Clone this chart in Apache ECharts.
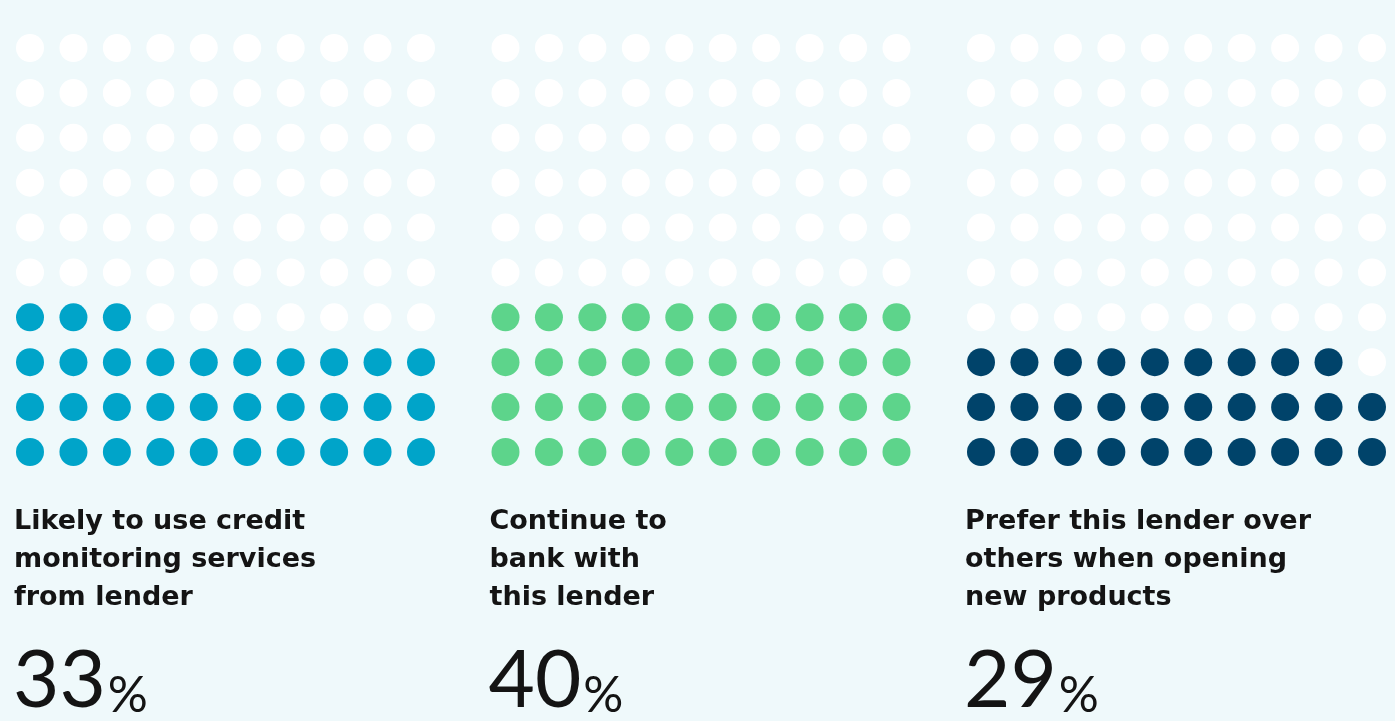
<!DOCTYPE html>
<html>
<head>
<meta charset="utf-8">
<script src="https://cdn.jsdelivr.net/npm/echarts@6/dist/echarts.min.js"></script>
<style>
html,body{margin:0;padding:0;background:#eff9fb}
#main{width:1395px;height:721px}
</style>
</head>
<body>
<div id="main"></div>
<script>
// panel data
var labels = [
  'Likely to use credit\nmonitoring services\nfrom lender',
  'Continue to\nbank with\nthis lender',
  'Prefer this lender over\nothers when opening\nnew products'
];
var percents = [33, 40, 29];
var colors = ['#00a4c9', '#5dd48b', '#00436a'];
var gridCols = 10, gridRows = 10;

var chart = echarts.init(document.getElementById('main'));

var grids = [], xAxes = [], yAxes = [], series = [], graphics = [];
var step = 475.5;

for (var i = 0; i < percents.length; i++) {
  grids.push({left: 30 + i * step, top: 48, width: 391, height: 404});
  xAxes.push({type: 'value', gridIndex: i, min: 0, max: gridCols - 1, show: false});
  yAxes.push({type: 'value', gridIndex: i, min: 0, max: gridRows - 1, show: false});

  // fill from bottom row, left to right
  var filled = [], empty = [];
  for (var k = 0; k < gridCols * gridRows; k++) {
    var cell = [k % gridCols, Math.floor(k / gridCols)];
    if (k < percents[i]) filled.push(cell); else empty.push(cell);
  }
  series.push({
    type: 'scatter', xAxisIndex: i, yAxisIndex: i, symbolSize: 28,
    itemStyle: {color: '#ffffff', opacity: 1}, data: empty, silent: true
  });
  series.push({
    type: 'scatter', xAxisIndex: i, yAxisIndex: i, symbolSize: 28,
    itemStyle: {color: colors[i], opacity: 1}, data: filled, silent: true
  });

  graphics.push({
    type: 'text', x: 14 + i * step, y: 503,
    style: {
      text: labels[i], fontFamily: 'DejaVu Sans', fontWeight: 'bold',
      fontSize: 27, lineHeight: 38, fill: '#141414'
    }
  });
  graphics.push({
    type: 'text', x: 13 + i * step, y: 641,
    style: {
      text: '{n|' + percents[i] + '}{p|%}',
      fontFamily: 'Lato', fontWeight: 'normal', fontSize: 80,
      fill: '#141414',
      rich: {
        n: {fontFamily: 'Lato', fontWeight: 'normal', fontSize: 80, lineHeight: 80, fill: '#141414'},
        p: {fontFamily: 'Lato', fontWeight: 'normal', fontSize: 50, lineHeight: 64, verticalAlign: 'bottom', fill: '#141414', padding: [0, 0, 0, 2]}
      }
    }
  });
}

chart.setOption({
  backgroundColor: '#eff9fb',
  animation: false,
  grid: grids,
  xAxis: xAxes,
  yAxis: yAxes,
  series: series,
  graphic: graphics
});
</script>
</body>
</html>
